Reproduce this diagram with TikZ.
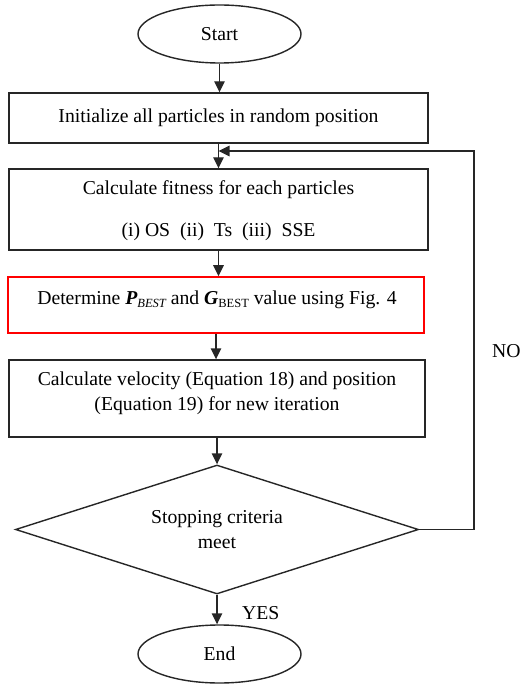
\documentclass[tikz,border=0pt]{standalone}
\usepackage{fontspec}
\setmainfont{Liberation Serif}
\usetikzlibrary{shapes.geometric,arrows.meta}
\begin{document}
\begin{tikzpicture}[x=1pt,y=-1pt,
  every node/.style={font=\fontsize{19.7}{25}\selectfont, text=black},
  line/.style={draw=black!85, line width=1.4pt},
  arr/.style={line, -{Triangle[length=11pt,width=10.5pt]}},
  proc/.style={draw=black!85, line width=1.4pt, rectangle, inner sep=0pt},
  term/.style={draw=black!85, line width=1.4pt, ellipse, minimum width=163pt, minimum height=58pt, inner sep=0pt},
  dec/.style={draw=black!85, line width=1.4pt, diamond, inner sep=0pt},
  txt/.style={inner sep=0pt, align=center},
  lab/.style={inner sep=0pt, anchor=west}]
\useasboundingbox (0,0) rectangle (522,684);

\node[term] (start) at (219.5,34) {Start};
\node[proc, minimum width=419pt, minimum height=50pt] (init) at (218.5,118) {Initialize all particles in random position};
\node[proc, minimum width=419pt, minimum height=81pt] (fit) at (218.5,209.5) {};
\node[txt] (fittxt) at (218.5,211) {Calculate fitness for each particles\\[17pt] (i) OS~ (ii)~ Ts~ (iii)~ SSE};
\node[proc, draw=red, line width=1.7pt, minimum width=416pt, minimum height=56pt] (best) at (216,305) {};
\node[txt] (besttxt) at (217,300) {Determine {\bfseries\itshape P}\raisebox{-0.35ex}{\fontsize{12.5}{12.5}\selectfont\itshape BEST} and {\bfseries\itshape G}\raisebox{-0.35ex}{\fontsize{12.5}{12.5}\selectfont BEST} value using Fig. 4};
\node[proc, minimum width=416pt, minimum height=77pt] (vel) at (217,398.5) {};
\node[txt] (veltxt) at (217,393) {Calculate velocity (Equation 18) and position\\(Equation 19) for new iteration};
\node[dec, minimum width=403pt, minimum height=129pt] (stop) at (217,529.5) {};
\node[txt] (stoptxt) at (217,530) {Stopping criteria\\meet};
\node[term] (end) at (219.5,654) {End};

\node[lab] (yes) at (242,613) {YES};
\node[lab] (no) at (492,351) {NO};

\coordinate (loopc) at (474,151);
\coordinate (join) at (218.5,151);

\draw[arr] (start.south) -- (start.south |- init.north);
\draw[arr] (init.south) -- (fit.north);
\draw[arr] (fit.south) -- (fit.south |- best.north);
\draw[arr] (best.south) -- (best.south |- vel.north);
\draw[arr] (vel.south) -- (vel.south |- stop.north);
\draw[arr] (stop.south) -- (stop.south |- end.north);
\draw[arr] (stop.east) -| (loopc) -- (join);
\end{tikzpicture}
\end{document}
